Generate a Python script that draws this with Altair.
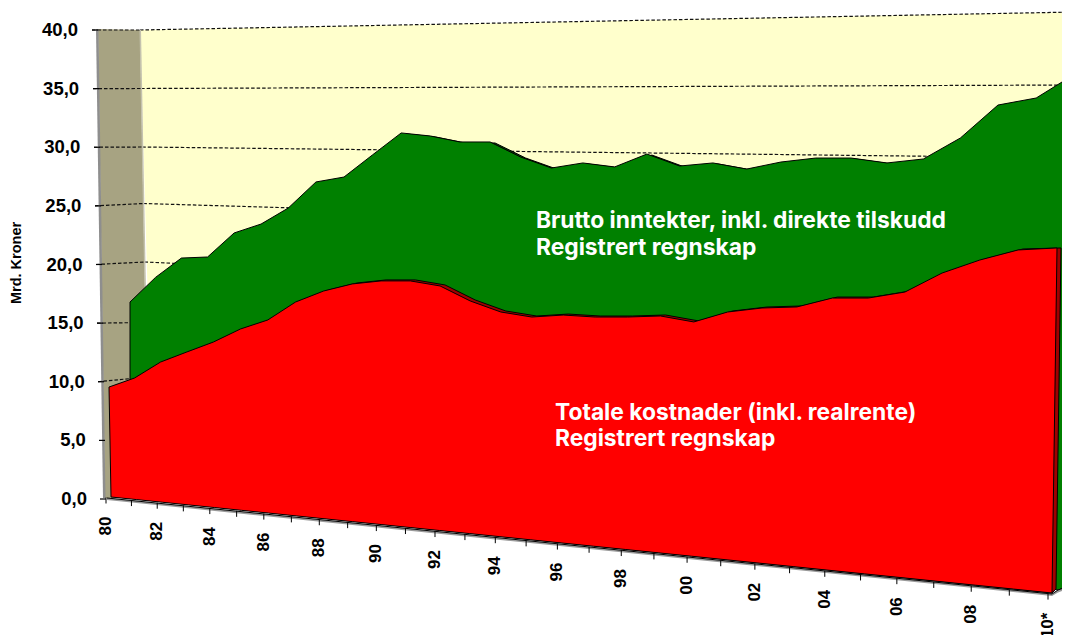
import altair as alt
import pandas as pd

years = list(range(1980, 2011))
# values as read against the left-hand axis (Mrd. kroner, apparent height in the 3D picture)
brutto = [16.8, 18.9, 20.55, 20.64, 22.69, 23.45, 24.82, 27.04, 27.46, 29.34, 31.22,
          30.96, 30.45, 30.45, 29.17, 28.23, 28.66, 28.32, 29.42, 28.4, 28.66,
          28.14, 28.74, 29.08, 29.08, 28.66, 29.0, 30.79, 33.6, 34.2, 36.25]
kostnader = [9.55, 10.32, 11.68, 12.54, 13.39, 14.5, 15.27, 16.8, 17.74, 18.34, 18.6,
             18.6, 18.17, 16.89, 15.95, 15.52, 15.69, 15.52, 15.52, 15.61, 15.1,
             15.95, 16.29, 16.38, 17.14, 17.14, 17.65, 19.27, 20.38, 21.24, 21.41]
y_levels = [40, 35, 30, 25, 20, 15, 10, 5, 0]
y_labels = ["40,0", "35,0", "30,0", "25,0", "20,0", "15,0", "10,0", "5,0", "0,0"]
x_labels = ["80", "82", "84", "86", "88", "90", "92", "94", "96", "98",
            "00", "02", "04", "06", "08", "10*"]
green_text = ["Brutto inntekter, inkl. direkte tilskudd", "Registrert regnskap"]
red_text = ["Totale kostnader (inkl. realrente)", "Registrert regnskap"]
y_title = "Mrd. Kroner"

W, H = 1054, 627
PX = 11.725          # picture pixels per axis unit at the front of the left wall


def val(py):
    return (499 - py) / PX


def persp(year):
    t = (year - 1980) / 30
    c = 0.195
    return t * (1 - c) / (1 - c * t)


def floor_py(x):
    return 497 + (x - 111) * 96 / 941


x_scale = alt.Scale(domain=[8, 8 + W], range=[0, W], nice=False, zero=False)
y_scale = alt.Scale(domain=[val(8 + H), val(8)], range=[H, 0], nice=False, zero=False)
X = alt.X("x:Q", scale=x_scale, axis=None)
Y = alt.Y("y:Q", scale=y_scale, axis=None)


def polygon(pts, fill, stroke=None, width=1.0):
    df = pd.DataFrame({"i": range(len(pts)), "x": [p[0] for p in pts], "y": [val(p[1]) for p in pts]})
    kw = {"stroke": stroke if stroke else fill, "strokeWidth": width if stroke else 0}
    return alt.Chart(df).mark_line(fill=fill, interpolate="linear-closed", clip=True, **kw).encode(
        x=X, y=Y, order=alt.Order("i:Q"))


def polyline(pts, color="black", width=1.0, dash=None):
    df = pd.DataFrame({"i": range(len(pts)), "x": [p[0] for p in pts], "y": [val(p[1]) for p in pts]})
    kw = {"strokeDash": dash} if dash else {}
    return alt.Chart(df).mark_line(stroke=color, strokeWidth=width, clip=True, **kw).encode(
        x=X, y=Y, order=alt.Order("i:Q"))


def label(rows, size, color="black", align="left", angle=0, baseline="middle", font="Liberation Sans"):
    df = pd.DataFrame([{"x": r[0], "y": val(r[1]), "t": r[2]} for r in rows])
    return alt.Chart(df).mark_text(font=font, fontWeight="bold", fontSize=size, color=color,
                                   align=align, angle=angle, baseline=baseline).encode(
        x=X, y=Y, text="t:N")


def tick_x(y):
    return 106 + 942 * persp(y)


layers = []

# back wall
layers.append(polygon([(140, 30), (1075, 12), (1075, 340), (149, 340)], "#FFFFCC"))

# gridlines on the back wall
for lv in y_levels[:7]:
    corner_x = 140 + (40 - lv) * 0.225
    corner_y = 30 + (40 - lv) * 11.7
    if lv in (25, 20):
        corner_y -= 2
    if lv in (10,):
        corner_y -= 4
    right_y = 12 + (40 - lv) * 14.6
    layers.append(polyline([(corner_x, corner_y), (1075, right_y)], color="#111111", width=1.2, dash=[3.5, 2]))

# side wall
layers.append(polygon([(98, 29), (140, 30), (149, 498), (105, 498)], "#A7A382"))
layers.append(polygon([(96, 29), (98.5, 29), (105.5, 498), (103, 498)], "#8E8E8E"))
layers.append(polygon([(139.5, 30), (141, 30), (150, 498), (148.5, 498)], "#C4C2AE"))

# gridlines on the side wall
for lv in y_levels[:7]:
    left_x = 92 + (40 - lv) * 0.2
    left_y = 499 - lv * PX
    corner_x = 140 + (40 - lv) * 0.225
    corner_y = 30 + (40 - lv) * 11.7
    if lv in (25, 20):
        corner_y -= 2
    if lv in (10,):
        corner_y -= 4
    layers.append(polyline([(left_x, left_y), (corner_x, corner_y)], color="#111111", width=1.2, dash=[3.5, 2]))

# axis ticks on the left
for lv in y_levels:
    left_x = 92 + (40 - lv) * 0.2
    layers.append(polyline([(left_x, 499 - lv * PX), (left_x + 6, 499 - lv * PX)], width=1.2))

# green body
g_top = [(130 + 945 * persp(y), 499 - v * PX) for y, v in zip(years, brutto)]
layers.append(polygon([(x + 5, p + 1) for x, p in g_top] + [(1071, 586), (136, 420)], "#004F00", "black"))
layers.append(polygon(g_top + [(1075 - 8.5, 587), (1058, 590), (130, 400)], "#008000", "black"))

# red body
r_top = [(109 + 948 * persp(y), 499 - v * PX) for y, v in zip(years, kostnader)]
r_bot = [(111 + 941 * persp(y), floor_py(111 + 941 * persp(y))) for y in years]
layers.append(polygon([(x + 5, p - 1) if i < 30 else (x + 4, p) for i, (x, p) in enumerate(r_top)]
                      + [(1056, 589), (1052, 593), (117, 497)], "#A00000", "black"))
layers.append(polygon(r_top + r_bot[::-1], "#FF0000", "black"))

# floor edge
layers.append(polygon([(107, 498), (1052, 594), (1058, 590), (1072, 585), (1072, 587), (1058, 592.5),
                       (1052, 596), (107, 500)], "#9A9A9A"))
layers.append(polyline([(107, 498), (1052, 594), (1058, 590), (1072, 585)], width=1.0))

# x ticks
for y in years:
    x = tick_x(y)
    f = floor_py(x)
    layers.append(polyline([(x, f + 1), (x, f + 7)], width=1.0))

# texts
layers.append(label([(78 + (40 - lv) * 0.225, 499 - lv * PX, s) for lv, s in zip(y_levels, y_labels)],
                    18.5, align="right"))
layers.append(label([(tick_x(y), floor_py(tick_x(y)) + 20, s) for y, s in zip(years[::2], x_labels)],
                    17, align="right", angle=270))
layers.append(label([(17, 263, y_title)], 14.5, angle=270, align="center"))
layers.append(label([(536, 220.5, green_text[0]), (536, 247.5, green_text[1])], 22.8, color="white", font="Inter"))
layers.append(label([(555, 412.5, red_text[0]), (555, 438.5, red_text[1])], 22.8, color="white", font="Inter"))

chart = alt.layer(*layers).properties(
    width=W, height=H, padding=0,
    autosize=alt.AutoSizeParams(type="none"),
    background="white",
).configure_view(stroke=None)

chart.save("out.html", embed_options={"renderer": "svg", "actions": False})
